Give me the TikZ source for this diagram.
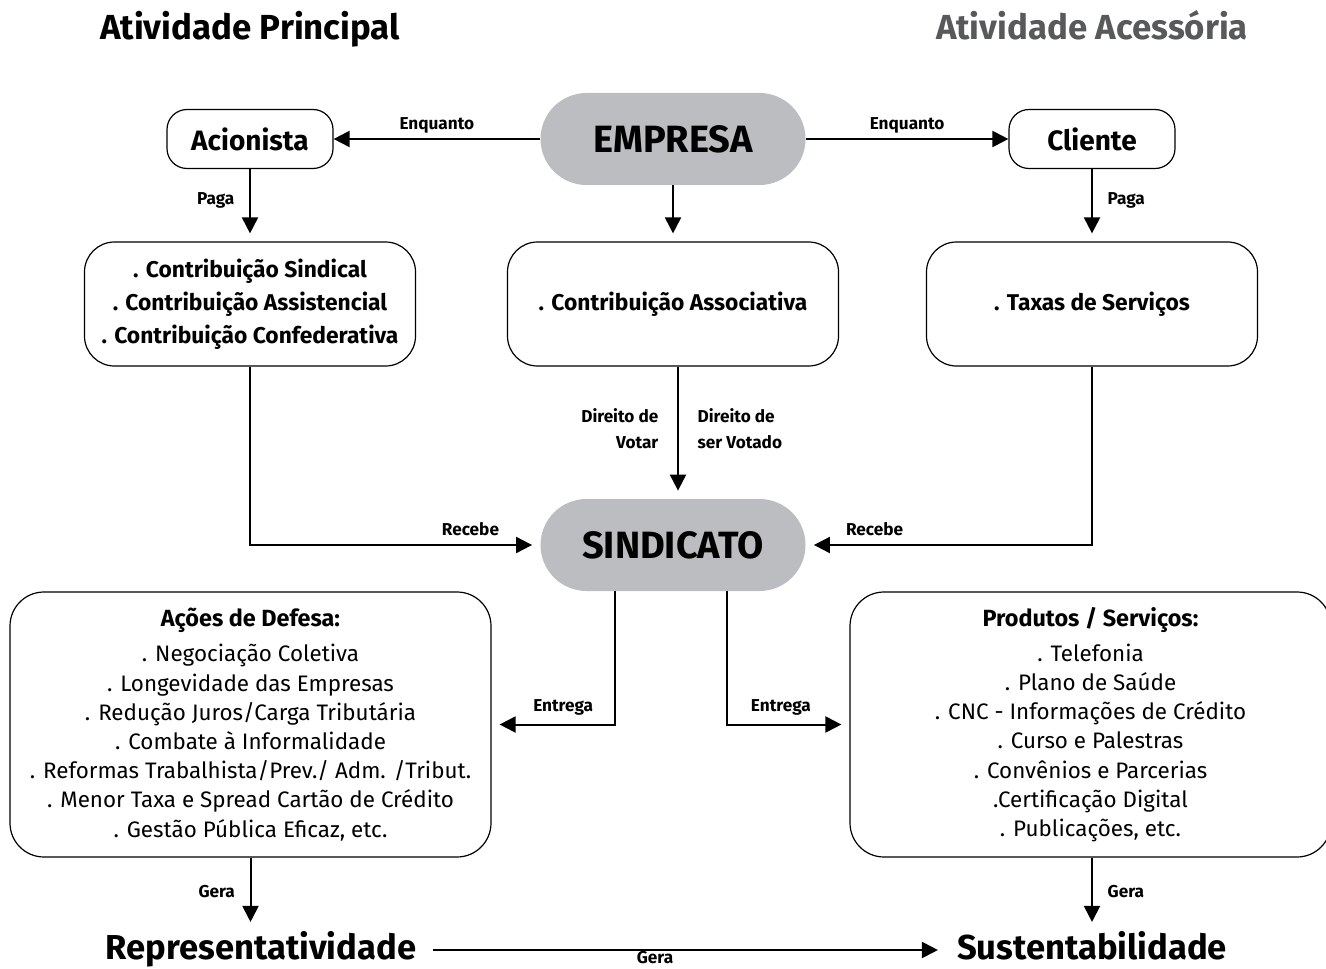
\documentclass[tikz,border=0pt]{standalone}
\usepackage{fontspec}
\setmainfont{Fira Sans}
\usepackage{xcolor}
\usetikzlibrary{arrows.meta,positioning,calc}
\definecolor{boxgray}{HTML}{BCBDC0}
\definecolor{titlegray}{HTML}{58595B}

\begin{document}
\begin{tikzpicture}[x=0.5pt,y=-0.5pt,
    arr/.style={line width=1pt,-{Triangle[length=8pt,width=8pt]},shorten >=4pt},
    lbl/.style={font=\bfseries\fontsize{8.6}{13}\selectfont},
    mainbox/.style={fill=boxgray,rounded corners=23pt,minimum width=132.5pt,minimum height=46pt,font=\bfseries\fontsize{19}{22}\selectfont},
    smallbox/.style={draw,line width=0.6pt,rounded corners=10pt,minimum width=83pt,minimum height=29.5pt,font=\bfseries\fontsize{14}{16}\selectfont},
    midbox/.style={draw,line width=0.6pt,rounded corners=15pt,minimum width=165.5pt,minimum height=62pt,align=center,font=\bfseries\fontsize{11.4}{16.5}\selectfont},
    bigbox/.style={draw,line width=0.6pt,rounded corners=17pt,minimum width=240.5pt,minimum height=132.5pt,align=center,font=\fontsize{11.2}{14.6}\selectfont},
    coltitle/.style={font=\bfseries\fontsize{17.4}{20}\selectfont,text height=13pt,text depth=4pt},
    result/.style={font=\bfseries\fontsize{17.3}{20}\selectfont,text height=13pt,text depth=4pt}]

    \useasboundingbox (0,0) rectangle (1326,968);

    % Titles
    \node[coltitle] (tprinc) at (250,31) {Atividade Principal};
    \node[coltitle,text=titlegray] (tacess) at (1092,31) {Atividade Acessória};

    % Top row
    \node[mainbox] (empresa) at (673,139) {EMPRESA};
    \node[smallbox] (acionista) at (250,139) {Acionista};
    \node[smallbox] (cliente) at (1092,139) {Cliente};

    % Contributions
    \node[midbox] (contrib) at (250,304) {. Contribuição Sindical\\. Contribuição Assistencial\\. Contribuição Confederativa};
    \node[midbox] (assoc) at (673,304) {. Contribuição Associativa};
    \node[midbox] (taxas) at (1092,304) {. Taxas de Serviços};

    \node[mainbox] (sindicato) at (673,545) {SINDICATO};

    % Lists
    \node[bigbox] (defesa) at (250.5,724.5) {{\bfseries\fontsize{11.7}{14.6}\selectfont Ações de Defesa:}\\[3pt]
        . Negociação Coletiva\\
        . Longevidade das Empresas\\
        . Redução Juros/Carga Tributária\\
        . Combate à Informalidade\\
        . Reformas Trabalhista/Prev./ Adm. /Tribut.\\
        . Menor Taxa e Spread Cartão de Crédito\\
        . Gestão Pública Eficaz, etc.};
    \node[bigbox] (produtos) at (1090.5,724.5) {{\bfseries\fontsize{11.7}{14.6}\selectfont Produtos / Serviços:}\\[3pt]
        . Telefonia\\
        . Plano de Saúde\\
        . CNC - Informações de Crédito\\
        . Curso e Palestras\\
        . Convênios e Parcerias\\
        .Certificação Digital\\
        . Publicações, etc.};

    % Results
    \node[result] (repr) at (261,950) {Representatividade};
    \node[result] (sust) at (1092,950) {Sustentabilidade};

    % Arrows
    \draw[arr,shorten >=0pt] (empresa) -- node[lbl,above=-1pt]{Enquanto} (acionista);
    \draw[arr,shorten >=0pt] (empresa) -- node[lbl,above=-1pt]{Enquanto} (cliente);
    \draw[arr] (acionista) -- node[lbl,left=4pt,pos=0.43]{Paga} (contrib);
    \draw[arr] (empresa) -- (assoc);
    \draw[arr] (cliente) -- node[lbl,right=4pt,pos=0.43]{Paga} (taxas);
    \draw[arr] ([xshift=2.5pt]assoc.south) -- node[lbl,left=6pt,align=right,pos=0.47]{Direito de\\Votar}
        node[lbl,right=6pt,align=left,pos=0.47]{Direito de\\ser Votado} ([xshift=2.5pt]sindicato.north);
    \draw[arr] (contrib) |- node[lbl,above=1pt,pos=0.88]{Recebe} (sindicato);
    \draw[arr] (taxas) |- node[lbl,above=1pt,pos=0.88]{Recebe} (sindicato);
    \draw[arr] ([xshift=-29pt]sindicato.south) |- node[lbl,above=1pt,pos=0.71]{Entrega} (defesa);
    \draw[arr] ([xshift=27pt]sindicato.south) |- node[lbl,above=1pt,pos=0.72]{Entrega} (produtos);
    \draw[arr,shorten >=2pt] (defesa.south) -- node[lbl,left=4pt]{Gera} (defesa.south |- repr.north);
    \draw[arr,shorten >=2pt] ([xshift=0.75pt]produtos.south) -- node[lbl,right=4pt]{Gera} ([xshift=0.75pt]produtos.south |- sust.north);
    \draw[arr,shorten <=5pt,shorten >=6pt] (repr) -- node[lbl,below=-3pt,pos=0.44]{Gera} (sust);

\end{tikzpicture}
\end{document}
